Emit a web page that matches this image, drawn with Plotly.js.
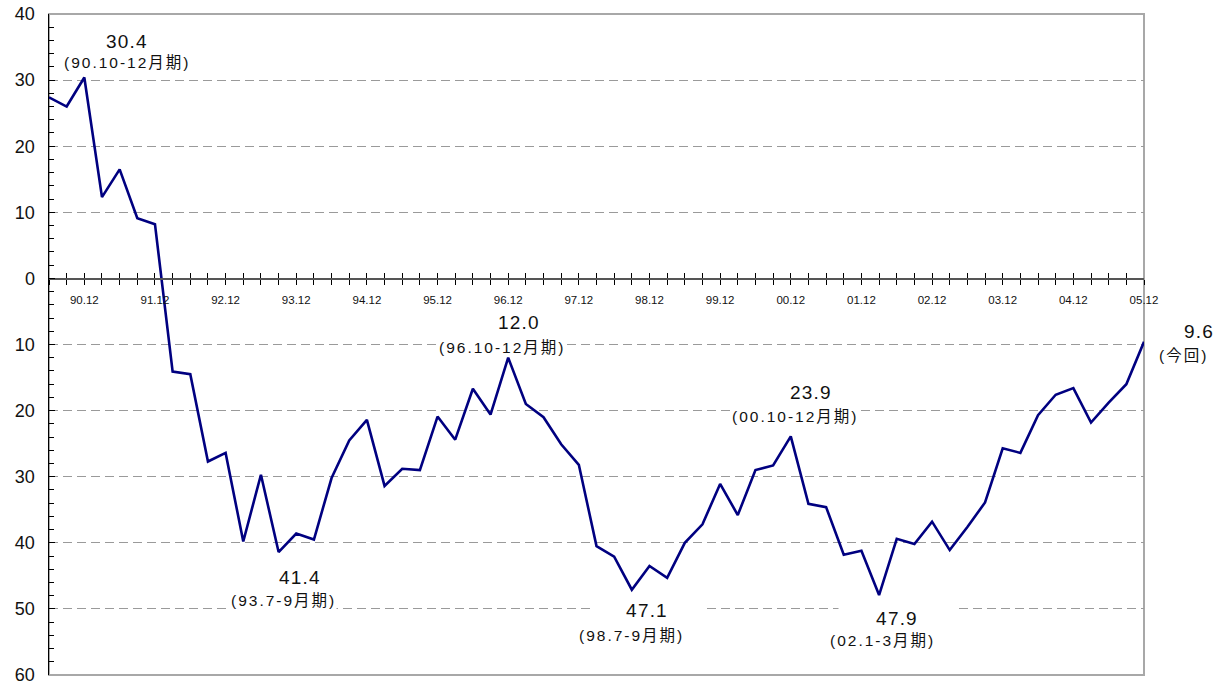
<!DOCTYPE html>
<html>
<head>
<meta charset="utf-8">
<script src="https://cdn.plot.ly/plotly-3.0.1.min.js"></script>
<style>
html,body{margin:0;padding:0;background:#fff;}
#chart{width:1230px;height:688px;}
</style>
</head>
<body>
<div id="chart"></div>
<script>
// Quarterly values, 1990 Apr-Jun .. 2005 Oct-Dec (negative = below zero line)
const values = [
  27.4, 26.0, 30.4, 12.3, 16.5, 9.1, 8.2,
  -14.1, -14.5, -27.7, -26.4,
  -39.8, -29.7, -41.4, -38.6,
  -39.5, -30.2, -24.5, -21.4,
  -31.4, -28.8, -29.0, -20.9,
  -24.4, -16.7, -20.6, -12.0,
  -19.0, -21.0, -25.1, -28.2,
  -40.5, -42.1, -47.1, -43.5,
  -45.3, -40.0, -37.2, -31.1,
  -35.8, -29.0, -28.3, -23.9,
  -34.1, -34.6, -41.8, -41.2,
  -47.9, -39.4, -40.2, -36.8,
  -41.1, -37.6, -33.9, -25.7,
  -26.4, -20.7, -17.6, -16.6,
  -21.8, -18.8, -16.0, -9.6
];
// Year-end tick labels (every 4th quarter, starting at the 3rd point)
const yearLabels = ['90.12','91.12','92.12','93.12','94.12','95.12','96.12','97.12',
                    '98.12','99.12','00.12','01.12','02.12','03.12','04.12','05.12'];
const firstLabelIndex = 2;
// Y tick values and their displayed (absolute) labels
const yTickVals = [-60,-50,-40,-30,-20,-10,0,10,20,30,40];
const yTickText = ['60','50','40','30','20','10','0','10','20','30','40'];

const xIdx = values.map((v,i)=>i);
const xTickText = xIdx.map(i => ((i - firstLabelIndex) % 4 === 0 && i >= firstLabelIndex) ? yearLabels[(i - firstLabelIndex)/4] : '');

const FONT = 'Liberation Sans, Arial, Noto Sans CJK JP, sans-serif';
const numFont = {family: FONT, size: 19, color: '#111'};
const parFont = {family: FONT, size: 15.5, color: '#111'};
const sp = (t, s) => '<span style="letter-spacing:' + s + 'px">' + t + '</span>';

function numAnn(x, y, t, extra) {
  return Object.assign({x:x, y:y, xref:'x', yref:'y', text: sp(t,1.2), showarrow:false,
    font:numFont, xanchor:'center', yanchor:'middle', borderpad:0}, extra||{});
}
function parAnn(x, y, t, extra) {
  return Object.assign({x:x, y:y, xref:'x', yref:'y', text: sp(t,2), showarrow:false,
    font:parFont, xanchor:'center', yanchor:'middle', borderpad:0}, extra||{});
}

const annotations = [
  numAnn(4.42, 35.9, '30.4'),
  parAnn(4.42, 32.7, '(90.10-12月期)'),
  numAnn(26.6, -6.7, '12.0'),
  parAnn(25.7, -10.4, '(96.10-12月期)', {bgcolor:'#fff'}),
  numAnn(14.2, -45.3, '41.4'),
  parAnn(13.25, -48.8, '(93.7-9月期)', {bgcolor:'#fff'}),
  numAnn(43.15, -17.3, '23.9'),
  parAnn(42.24, -20.95, '(00.10-12月期)', {bgcolor:'#fff'}),
  numAnn(33.86, -50.2, '47.1', {bgcolor:'#fff', width:112}),
  parAnn(33.0, -54.0, '(98.7-9月期)'),
  numAnn(48.0, -51.4, '47.9', {bgcolor:'#fff', width:116}),
  parAnn(47.2, -54.8, '(02.1-3月期)'),
  numAnn(1.050, -8.1, '9.6', {xref:'paper'}),
  parAnn(1.0365, -11.7, '(今回)', {xref:'paper'})
];

const data = [
  {x: xIdx, y: values, type:'scatter', mode:'lines',
   line:{color:'#000080', width:2.6}, hoverinfo:'skip', showlegend:false},
  {x: [], y: [], xaxis:'x2', type:'scatter', mode:'lines', showlegend:false}
];

const layout = {
  width:1230, height:688,
  margin:{l:49, r:86, t:14, b:13},
  paper_bgcolor:'#fff', plot_bgcolor:'#fff',
  showlegend:false,
  xaxis:{
    range:[0, values.length-1], anchor:'free', position:0.6,
    showline:true, linecolor:'#555', linewidth:1.5,
    tickmode:'array', tickvals:xIdx, ticktext:xTickText,
    ticks:'outside', ticklen:5, tickwidth:1, tickcolor:'#000',
    ticklabelstandoff:5,
    tickfont:{family:FONT, size:11.5, color:'#111'},
    showgrid:false, zeroline:false, fixedrange:true
  },
  xaxis2:{
    range:[0, values.length-1], overlaying:'x', anchor:'free', position:0.6,
    showline:false, tickmode:'array', tickvals:xIdx,
    ticks:'inside', ticklen:5, tickwidth:1, tickcolor:'#000',
    showticklabels:false, showgrid:false, zeroline:false, fixedrange:true
  },
  yaxis:{
    range:[-60, 40], anchor:'x',
    showline:true, linecolor:'#000', linewidth:1.5,
    tickmode:'array', tickvals:yTickVals, ticktext:yTickText,
    ticks:'inside', ticklen:6, tickwidth:1, tickcolor:'#000',
    ticklabelstandoff:9,
    tickfont:{family:FONT, size:18, color:'#111'},
    showgrid:true, gridcolor:'#9a9a9a', gridwidth:1, griddash:'9px,5px',
    zeroline:false, fixedrange:true,
    minor:{dtick:2, tick0:0, ticks:'inside', ticklen:5, tickwidth:1, tickcolor:'#000', showgrid:false}
  },
  shapes:[
    {type:'rect', xref:'paper', yref:'paper', x0:0, x1:1, y0:0, y1:1,
     line:{color:'#a8a8a8', width:2}, layer:'below'}
  ],
  annotations: annotations
};

Plotly.newPlot('chart', data, layout, {displayModeBar:false, staticPlot:true});
</script>
</body>
</html>
